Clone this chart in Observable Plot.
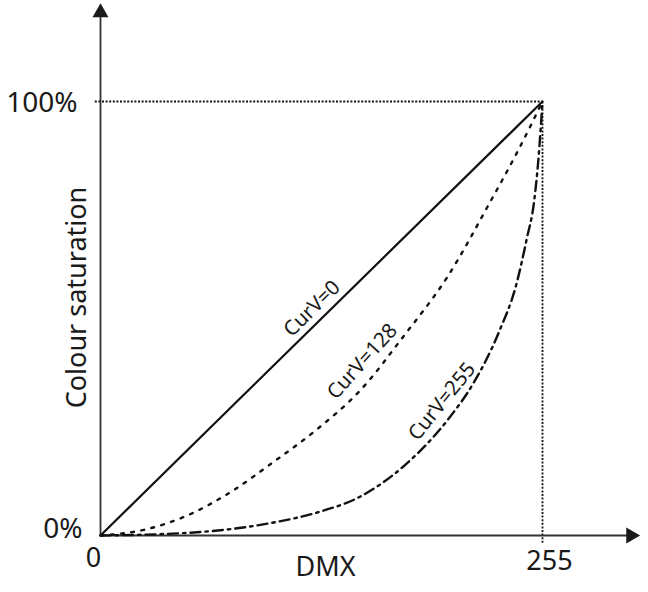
<!DOCTYPE html>
<html>
<head>
<meta charset="utf-8">
<script src="https://cdn.jsdelivr.net/npm/d3@7"></script>
<script src="https://cdn.jsdelivr.net/npm/@observablehq/plot@0.6"></script>
<style>
  html, body { margin: 0; padding: 0; background: #fff; }
</style>
</head>
<body>
<div id="chart"></div>
<script>
// ---- data ----
const dmx0 = [0, 255];
const sat0 = [0, 100];

const dmx128 = [0, 25, 50, 75, 100, 125, 150, 175, 200, 225, 240, 255];
const sat128 = [0, 1.3, 4.6, 10, 17, 24.5, 33.5, 46, 59.5, 77, 88, 100];

const dmx255 = [0, 50, 100, 125, 150, 175, 200, 215, 230, 240, 246, 250, 252.5, 255];
const sat255 = [0, 0.6, 3, 5.3, 9, 16, 26.5, 35, 47, 58, 68.5, 76.5, 86, 100];

const curveNames = ["CurV=0", "CurV=128", "CurV=255"];
const labelDmx = [122, 151, 197];
const labelSat = [52.3, 40.1, 30.9];
const labelAngle = [-44.5, -48, -51];

const xTicks = [0, 255];
const yTicks = [0, 100];
const xTitle = "DMX";
const yTitle = "Colour saturation";

// axis extents (arrow positions) in data units
const xAxisEnd = 306;
const yAxisEnd = 120.5;
const guideXStart = -3;
const guideYStart = -1.8;

// ---- build ----
const toRows = (xs, ys) => xs.map((x, i) => ({x, y: ys[i]}));
const line0 = toRows(dmx0, sat0);
const line128 = toRows(dmx128, sat128);
const line255 = toRows(dmx255, sat255);
const labels = curveNames.map((t, i) => ({t, x: labelDmx[i], y: labelSat[i], a: labelAngle[i]}));

const ink = "#111";
const axisInk = "#333";
const font = "'Noto Sans', sans-serif";

const plot = Plot.plot({
  width: 648,
  height: 592,
  marginLeft: 100,
  marginRight: 106,
  marginTop: 101,
  marginBottom: 57,
  x: {domain: [0, 255], axis: null},
  y: {domain: [0, 100], axis: null},
  style: {fontFamily: font, fontSize: "26px", background: "#fff", color: "#1a1a1a"},
  marks: [
    // dotted guides
    Plot.ruleY([yTicks[1]], {x1: guideXStart, x2: xTicks[1], stroke: ink, strokeWidth: 1.8, strokeDasharray: "2,1.6"}),
    Plot.ruleX([xTicks[1]], {y1: guideYStart, y2: yTicks[1], stroke: ink, strokeWidth: 1.8, strokeDasharray: "2,1.6"}),
    // axis lines with arrows
    Plot.ruleX([0], {y1: 0, y2: yAxisEnd, stroke: axisInk, strokeWidth: 1.8}),
    Plot.ruleY([0], {x1: 0, x2: xAxisEnd, stroke: axisInk, strokeWidth: 1.8}),
    Plot.dot([{x: 0, y: yAxisEnd}], {x: "x", y: "y", symbol: "triangle", r: 5.94, fill: "#1a1a1a", stroke: "none"}),
    Plot.dot([{x: xAxisEnd, y: 0}], {x: "x", y: "y", symbol: "triangle", r: 5.94, rotate: 90, fill: "#1a1a1a", stroke: "none"}),
    // curves
    Plot.line(line0, {x: "x", y: "y", stroke: ink, strokeWidth: 2.2}),
    Plot.line(line128, {x: "x", y: "y", stroke: ink, strokeWidth: 2.4, strokeDasharray: "2.8,7.5", curve: "monotone-x"}),
    Plot.line(line255, {x: "x", y: "y", stroke: ink, strokeWidth: 2.4, strokeDasharray: "10,5,2.5,5", curve: "monotone-x"}),
    // curve labels
    Plot.text(labels, {x: "x", y: "y", text: "t", rotate: "a", fontSize: 20.5, fill: "#1a1a1a", fontFamily: font}),
    // tick labels
    Plot.axisY([yTicks[1]], {tickSize: 0, tickPadding: 23, dy: 2, fontSize: 28, fontFamily: font, tickFormat: d => d + "%", label: null}),
    Plot.axisY([yTicks[0]], {tickSize: 0, tickPadding: 18, dy: -6.5, fontSize: 28, fontFamily: font, tickFormat: d => d + "%", label: null}),
    Plot.axisX([xTicks[0]], {tickSize: 0, tickPadding: 12.5, dx: -7, fontSize: 27, fontFamily: font, tickFormat: d => String(d), label: null}),
    Plot.axisX([xTicks[1]], {tickSize: 0, tickPadding: 15.5, dx: 7, fontSize: 27, fontFamily: font, tickFormat: d => String(d), label: null}),
    // axis titles
    Plot.text([xTitle], {frameAnchor: "bottom", textAnchor: "middle", lineAnchor: "bottom", dy: 40, dx: 4, fontSize: 27, fontFamily: font, text: d => d}),
    Plot.text([yTitle], {frameAnchor: "left", textAnchor: "middle", lineAnchor: "bottom", rotate: -90, dx: -15, dy: -21, fontSize: 27, fontFamily: font, text: d => d})
  ]
});
document.getElementById("chart").appendChild(plot);
</script>
</body>
</html>
